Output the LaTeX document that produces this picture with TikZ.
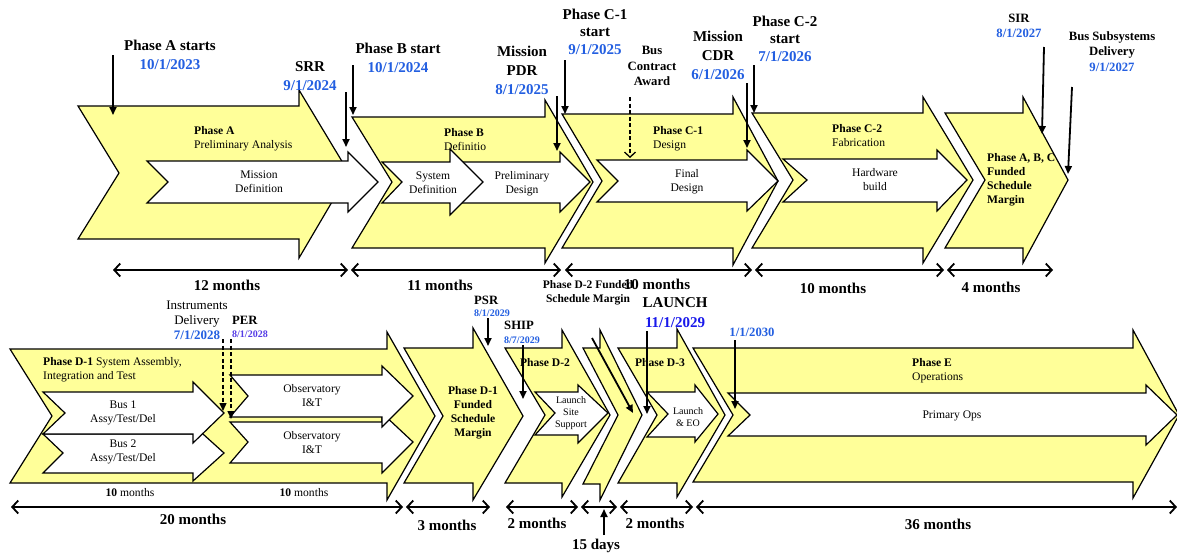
\documentclass[tikz,border=0pt]{standalone}
\usepackage{fontspec}
\setmainfont{Liberation Serif}
\usetikzlibrary{arrows.meta}
\definecolor{chevyellow}{RGB}{255,255,153}
\definecolor{dateblue}{RGB}{35,95,225}
\definecolor{launchblue}{RGB}{25,25,235}
\definecolor{perblue}{RGB}{85,60,230}
\newcommand\fbig{\fontsize{15}{19}\selectfont\bfseries}
\newcommand\fmid{\fontsize{12.7}{15.5}\selectfont\bfseries}
\newcommand\fin{\fontsize{11.6}{14}\selectfont}
\newcommand\fsm{\fontsize{10}{12}\selectfont}
\newcommand\ychev[9]{\draw[yel] (#1,#3) -- (#5,#3) -- (#5,#6) -- (#8,#9) -- (#5,#7) -- (#5,#4) -- (#1,#4) -- (#2,#9) -- cycle;}
\newcommand\wchev[9]{\draw[wht] (#1,#3) -- (#5,#3) -- (#5,#6) -- (#8,#9) -- (#5,#7) -- (#5,#4) -- (#1,#4) -- (#2,#9) -- cycle;}
\begin{document}
\begin{tikzpicture}[x=1pt,y=-1pt,
  yel/.style={draw=black,line width=1.2pt,fill=chevyellow,line join=miter},
  wht/.style={draw=black,line width=1.2pt,fill=white,line join=miter},
  txt/.style={inner sep=0pt,align=center},
  ltxt/.style={inner sep=0pt,align=left,anchor=west},
  ms/.style={line width=1.8pt,-{Triangle[length=8pt,width=7pt]}},
  msd/.style={line width=1.4pt,dash pattern=on 4pt off 2.5pt,-{Triangle[length=8pt,width=7pt]}},
  msv/.style={line width=1.3pt,dash pattern=on 4pt off 2.5pt,-{Straight Barb[length=5pt,width=11pt]}},
  span/.style={line width=1.8pt,{Straight Barb[length=6pt,width=13pt]}-{Straight Barb[length=6pt,width=13pt]}}]
\useasboundingbox (0,0) rectangle (1177,557);
\fill[white] (0,0) rectangle (1177,557);

% ---------- top row chevrons ----------
\ychev{78}{119}{106}{239}{299}{90}{258}{349}{173}
\ychev{352}{392}{117}{248}{545}{100}{263}{593}{182}
\ychev{562}{602}{114}{248}{733}{97}{265}{778}{181}
\ychev{752}{793}{113}{248}{923}{97}{263}{973}{180}
\ychev{945}{985}{113}{248}{1023}{97}{263}{1068}{180}
% white inner arrows
\wchev{147}{168}{161}{203}{348}{152}{212}{378}{182}
\wchev{452}{472}{162}{203}{560}{152}{212}{590}{182}
\wchev{382}{402}{162}{203}{450}{149}{215}{483}{182}
\wchev{597}{618}{160}{202}{747}{150}{211}{778}{181}
\wchev{783}{807}{159}{202}{937}{150}{211}{967}{180}

% ---------- bottom row chevrons ----------
\ychev{10}{52}{349}{483}{387}{332}{500}{435}{416}
\wchev{43}{63}{434}{473}{193}{425}{481}{224}{453}
\wchev{43}{65}{392}{434}{193}{382}{443}{224}{413}
\wchev{230}{248}{422}{463}{382}{413}{473}{413}{442}
\wchev{230}{248}{375}{417}{382}{366}{427}{413}{396}
\ychev{404}{443}{348}{483}{473}{328}{500}{523}{416}
\ychev{505}{545}{348}{483}{562}{330}{497}{610}{415}
\wchev{535}{555}{392}{435}{578}{385}{443}{608}{413}
\ychev{583}{618}{348}{484}{600}{330}{500}{642}{415}
\ychev{618}{657}{348}{483}{677}{329}{497}{725}{415}
\wchev{647}{668}{392}{437}{695}{385}{442}{718}{414}
\ychev{693}{733}{348}{482}{1133}{330}{498}{1179}{415}
\wchev{728}{750}{393}{436}{1146}{385}{445}{1177}{415}

% ---------- inner labels top ----------
\node[ltxt,font=\fin] (lA) at (194,139) {\textbf{Phase A}\\Preliminary Analysis};
\node[txt,font=\fin] (lMD) at (259,182) {Mission\\Definition};
\node[ltxt,font=\fin] (lB) at (444,140) {\textbf{Phase B}\\Definitio};
\node[txt,font=\fin] (lSD) at (433,183) {System\\Definition};
\node[txt,font=\fin] (lPD) at (522,184) {Preliminary\\Design};
\node[ltxt,font=\fin] (lC1) at (653,139) {\textbf{Phase C-1}\\Design};
\node[txt,font=\fin] (lFD) at (687,181.5) {Final\\Design};
\node[ltxt,font=\fin] (lC2) at (832,136) {\textbf{Phase C-2}\\Fabrication};
\node[txt,font=\fin] (lHW) at (875,179.5) {Hardware\\build};
\node[ltxt,font=\fin\bfseries] (lABC) at (987,180) {Phase A, B, C\\Funded\\Schedule\\Margin};

% ---------- top milestones ----------
\node[txt,font=\fbig] (nA) at (170,54.5) {Phase A starts\\\textcolor{dateblue}{10/1/2023}};
\coordinate (aA1) at (113,55); \coordinate (aA2) at (113,115);
\draw[ms] (aA1) -- (aA2);
\node[txt,font=\fbig] (nSRR) at (310,76.5) {SRR\\\textcolor{dateblue}{9/1/2024}};
\coordinate (aS1) at (346,92); \coordinate (aS2) at (346,147);
\draw[ms] (aS1) -- (aS2);
\node[txt,font=\fbig] (nB) at (398,57.5) {Phase B start\\\textcolor{dateblue}{10/1/2024}};
\coordinate (aB1) at (353,65); \coordinate (aB2) at (353,115);
\draw[ms] (aB1) -- (aB2);
\node[txt,font=\fbig] (nPDR) at (522,70) {Mission\\PDR\\\textcolor{dateblue}{8/1/2025}};
\coordinate (aP1) at (557,96); \coordinate (aP2) at (557,151);
\draw[ms] (aP1) -- (aP2);
\node[txt,font=\fbig] (nC1) at (595,31.5) {Phase C-1\\[-1.5pt]start\\[-1.5pt]\textcolor{dateblue}{9/1/2025}};
\coordinate (aC1a) at (565,60); \coordinate (aC1b) at (565,114);
\draw[ms] (aC1a) -- (aC1b);
\node[txt,font=\fmid] (nBus) at (652,66) {Bus\\Contract\\Award};
\coordinate (aBu1) at (630,97); \coordinate (aBu2) at (630,158);
\draw[msv] (aBu1) -- (aBu2);
\node[txt,font=\fbig] (nCDR) at (718,55) {Mission\\CDR\\\textcolor{dateblue}{6/1/2026}};
\coordinate (aCD1) at (747,83); \coordinate (aCD2) at (747,148);
\draw[ms] (aCD1) -- (aCD2);
\node[txt,font=\fbig] (nC2) at (785,38.5) {Phase C-2\\[-1.5pt]start\\[-1.5pt]\textcolor{dateblue}{7/1/2026}};
\coordinate (aC2a) at (754,65); \coordinate (aC2b) at (754,113);
\draw[ms] (aC2a) -- (aC2b);
\node[txt,font=\fmid] (nSIR) at (1019,26) {SIR\\\textcolor{dateblue}{8/1/2027}};
\coordinate (aSI1) at (1044,47); \coordinate (aSI2) at (1042,134);
\draw[ms] (aSI1) -- (aSI2);
\node[txt,font=\fmid] (nBSD) at (1112,51.5) {Bus Subsystems\\Delivery\\\textcolor{dateblue}{9/1/2027}};
\coordinate (aBS1) at (1072,87); \coordinate (aBS2) at (1068,174);
\draw[ms] (aBS1) -- (aBS2);

% ---------- top spans ----------
\coordinate (t0) at (113,270); \coordinate (t1) at (348,270);
\coordinate (t2) at (351,270); \coordinate (t3) at (561,270);
\coordinate (t4) at (565,270); \coordinate (t5) at (752,270);
\coordinate (t6) at (755,270); \coordinate (t7) at (944,270);
\coordinate (t8) at (947,270); \coordinate (t9) at (1053,270);
\draw[span] (t0) -- (t1);
\draw[span] (t2) -- (t3);
\draw[span] (t4) -- (t5);
\draw[span] (t6) -- (t7);
\draw[span] (t8) -- (t9);
\node[txt,font=\fbig] (m12) at (227,285) {12 months};
\node[txt,font=\fbig] (m11) at (440,285) {11 months};
\node[txt,font=\fbig] (m10a) at (657,284) {10 months};
\node[txt,font=\fbig] (m10b) at (833,288) {10 months};
\node[txt,font=\fbig] (m4) at (991,287) {4 months};

% ---------- bottom labels ----------
\node[ltxt,font=\fin] (lD1) at (43,370) {\textbf{Phase D-1} System Assembly,\\Integration and Test};
\node[txt,font=\fin] (lBus1) at (123,413) {Bus 1\\Assy/Test/Del};
\node[txt,font=\fin] (lBus2) at (123,452) {Bus 2\\Assy/Test/Del};
\node[txt,font=\fin] (lObs1) at (312,396) {Observatory\\I\&T};
\node[txt,font=\fin] (lObs2) at (312,443) {Observatory\\I\&T};
\node[txt,font=\fin] (l10a) at (130,493) {\textbf{10} months};
\node[txt,font=\fin] (l10b) at (304,493) {\textbf{10} months};
\node[txt,font=\fin\bfseries,align=center] (lD1M) at (473,412.5) {Phase D-1\\Funded\\Schedule\\Margin};
\node[txt,font=\fin\bfseries] (lD2) at (545,363) {Phase D-2};
\node[txt,font=\fsm] (lLSS) at (571,413) {Launch\\Site\\Support};
\node[txt,font=\fin\bfseries] (lD3) at (660,363) {Phase D-3};
\node[txt,font=\fsm] (lLEO) at (688,417) {Launch\\\& EO};
\node[ltxt,font=\fin] (lE) at (912,371) {\textbf{Phase E}\\Operations};
\node[txt,font=\fin] (lPO) at (952,416) {Primary Ops};

% ---------- bottom milestones ----------
\node[txt,font=\fontsize{13}{15}\selectfont] (nID) at (197,320) {Instruments\\Delivery\\\textbf{\textcolor{dateblue}{7/1/2028}}};
\coordinate (aID1) at (223,339); \coordinate (aID2) at (223,411);
\draw[msd] (aID1) -- (aID2);
\node[ltxt,font=\fmid] (nPER) at (232,320) {PER};
\node[ltxt,font=\fsm\bfseries] (nPERd) at (232,334) {\textcolor{perblue}{8/1/2028}};
\coordinate (aPE1) at (231,339); \coordinate (aPE2) at (231,419);
\draw[msd] (aPE1) -- (aPE2);
\node[ltxt,font=\fmid] (nPSR) at (474,300) {PSR};
\node[ltxt,font=\fsm\bfseries] (nPSRd) at (474,313) {\textcolor{dateblue}{8/1/2029}};
\coordinate (aPS1) at (488,318); \coordinate (aPS2) at (488,346);
\draw[ms] (aPS1) -- (aPS2);
\node[ltxt,font=\fmid] (nSHIP) at (504,325) {SHIP};
\node[ltxt,font=\fsm\bfseries] (nSHIPd) at (504,340) {\textcolor{dateblue}{8/7/2029}};
\coordinate (aSH1) at (523,345); \coordinate (aSH2) at (523,399);
\draw[ms] (aSH1) -- (aSH2);
\node[txt,font=\fontsize{11.5}{14}\selectfont\bfseries] (nD2M) at (588,293) {Phase D-2 Funded\\Schedule Margin};
\coordinate (aDM1) at (592,338); \coordinate (aDM2) at (633,413);
\draw[ms] (aDM1) -- (aDM2);
\node[txt,font=\fontsize{15}{20}\selectfont\bfseries] (nL) at (675,313) {LAUNCH\\\textcolor{launchblue}{11/1/2029}};
\coordinate (aL1) at (647,331); \coordinate (aL2) at (647,414);
\draw[ms] (aL1) -- (aL2);
\node[txt,font=\fmid] (nE) at (752,332) {\textcolor{dateblue}{1/1/2030}};
\coordinate (aE1) at (735,340); \coordinate (aE2) at (735,409);
\draw[ms] (aE1) -- (aE2);

% ---------- bottom spans ----------
\coordinate (b0) at (11,507); \coordinate (b1) at (403,507);
\coordinate (b2) at (406,507); \coordinate (b3) at (490,507);
\coordinate (b4) at (506,507); \coordinate (b5) at (578,507);
\coordinate (b6) at (581,507); \coordinate (b7) at (617,507);
\coordinate (b8) at (620,507); \coordinate (b9) at (693,507);
\coordinate (b10) at (696,507); \coordinate (b11) at (1177,507);
\draw[span] (b0) -- (b1);
\draw[span] (b2) -- (b3);
\draw[span] (b4) -- (b5);
\draw[span] (b6) -- (b7);
\draw[span] (b8) -- (b9);
\draw[span] (b10) -- (b11);
\node[txt,font=\fbig] (m20) at (193,519) {20 months};
\node[txt,font=\fbig] (m3) at (447,525) {3 months};
\node[txt,font=\fbig] (m2a) at (537,523) {2 months};
\node[txt,font=\fbig] (m2b) at (655,523) {2 months};
\node[txt,font=\fbig] (m36) at (938,524) {36 months};
\node[txt,font=\fbig] (d15) at (596,546) {15 days};
\coordinate (a15a) at (604,535); \coordinate (a15b) at (604,509);
\draw[ms] (a15a) -- (a15b);
\end{tikzpicture}
\end{document}
